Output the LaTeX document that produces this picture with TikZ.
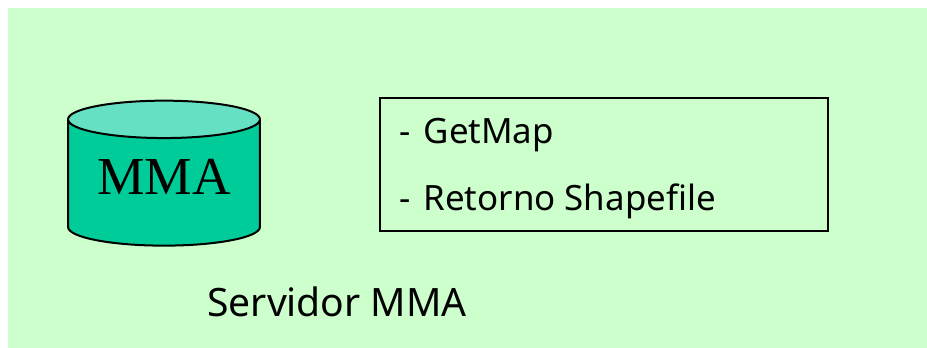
\documentclass[tikz,border=0pt]{standalone}
\usepackage{fontspec}
\setmainfont{Noto Sans}
\newfontfamily\dbfont{Liberation Serif}
\usetikzlibrary{shapes.geometric}
\definecolor{panelgreen}{RGB}{204,255,204}
\definecolor{dbbody}{RGB}{0,204,153}
\definecolor{dbtop}{RGB}{102,224,194}
\tikzset{
	dbcyl/.style={draw=black,line width=0.04cm,cylinder,shape border rotate=90,aspect=0.28,cylinder uses custom fill,cylinder body fill=dbbody,cylinder end fill=dbtop,minimum width=3.84cm,minimum height=2.9cm,inner sep=0pt,outer sep=0pt,text depth=0.26cm,font=\dbfont\fontsize{30.4pt}{30pt}\selectfont},
	opbox/.style={draw=black,line width=0.04cm,minimum width=8.96cm,minimum height=2.66cm,inner sep=0pt,outer sep=0pt},
	caption/.style={anchor=base west,inner sep=0pt,font=\fontsize{19.85pt}{24pt}\selectfont}
}
\begin{document}
\begin{tikzpicture}[x=0.02cm,y=-0.02cm]
\useasboundingbox (0,0) rectangle (927,348);
\fill[panelgreen] (8,8) rectangle (927,348);

\node[dbcyl] (mma) at (164,183) {MMA};
\node[opbox] (ops) at (604,164.5) {};

\node[caption] (getmap) at (399,144) {-\hspace{0.08cm} GetMap};
\node[caption] (retorno) at (399,211) {-\hspace{0.08cm} Retorno Shapefile};
\node[caption,font=\fontsize{22.25pt}{26pt}\selectfont] (servidor) at (207,316) {Servidor MMA};
\end{tikzpicture}
\end{document}
